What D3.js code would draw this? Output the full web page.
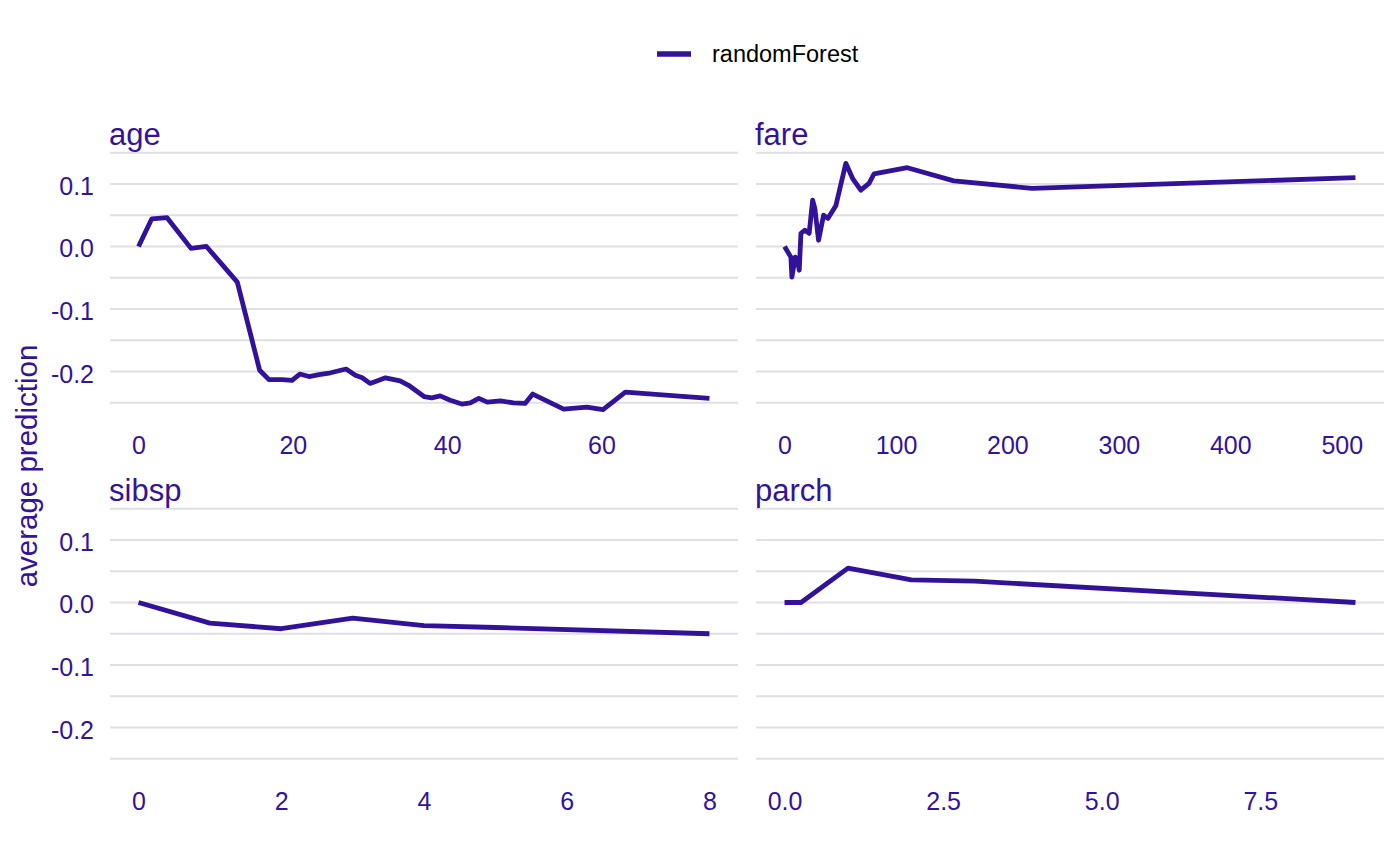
<!DOCTYPE html>
<html>
<head>
<meta charset="utf-8">
<script src="https://cdn.jsdelivr.net/npm/d3@7"></script>
<style>
  html, body { margin: 0; padding: 0; background: #ffffff; }
  svg { display: block; font-family: "Liberation Sans", Arial, Helvetica, sans-serif; }
</style>
</head>
<body>
<svg id="chart" width="1400" height="866"></svg>
<script>
// ---- data ----
const seriesName = "randomForest";
const variables = ["age", "fare", "sibsp", "parch"];

const ageX = [0, 1.7, 3.7, 6.8, 8.8, 12.8, 15.7, 16.9, 18.6, 19.9, 20.9, 22.1, 23.4, 24.9, 26.9, 28.1, 29.0, 30.0, 30.9, 32.0, 33.9, 35.0, 37.0, 38.0, 39.1, 40.4, 41.9, 43.0, 44.1, 45.2, 46.9, 48.6, 50.1, 51.1, 52.9, 55.1, 58.1, 60.2, 63.1, 74.0];
const ageY = [0.0, 0.044, 0.046, -0.003, 0.0, -0.057, -0.198, -0.213, -0.213, -0.214, -0.204, -0.208, -0.205, -0.202, -0.196, -0.206, -0.210, -0.219, -0.215, -0.210, -0.215, -0.222, -0.240, -0.242, -0.239, -0.246, -0.252, -0.250, -0.243, -0.249, -0.247, -0.250, -0.251, -0.236, -0.247, -0.260, -0.257, -0.261, -0.233, -0.243];

const fareX = [0, 5.7, 6.6, 9.6, 11.7, 13.2, 14.7, 18.3, 22.1, 25.2, 27.2, 30.5, 35.0, 39.0, 46.0, 55.0, 61.0, 68.4, 75.8, 80.3, 110.2, 151.9, 222.1, 512.3];
const fareY = [0.0, -0.017, -0.049, -0.017, -0.022, -0.038, 0.021, 0.026, 0.021, 0.074, 0.061, 0.010, 0.050, 0.045, 0.065, 0.133, 0.109, 0.090, 0.101, 0.116, 0.126, 0.105, 0.093, 0.110];

const sibspX = [0, 1, 2, 3, 4, 5, 8];
const sibspY = [0.0, -0.033, -0.042, -0.025, -0.037, -0.040, -0.050];

const parchX = [0, 0.26, 1, 2, 3, 9];
const parchY = [0.0, 0.0, 0.055, 0.036, 0.034, 0.0];

const xTicks = {
  age: [0, 20, 40, 60],
  fare: [0, 100, 200, 300, 400, 500],
  sibsp: [0, 2, 4, 6, 8],
  parch: [0, 2.5, 5, 7.5]
};
const xTickFormat = { age: "d", fare: "d", sibsp: "d", parch: ".1f" };
const yTicks = [0.1, 0.0, -0.1, -0.2];
const yGrid = [0.15, 0.1, 0.05, 0.0, -0.05, -0.1, -0.15, -0.2, -0.25];
const yAxisTitle = "average prediction";

// ---- build ----
const dataByVar = {
  age: ageX.map((x, i) => ({ x, y: ageY[i] })),
  fare: fareX.map((x, i) => ({ x, y: fareY[i] })),
  sibsp: sibspX.map((x, i) => ({ x, y: sibspY[i] })),
  parch: parchX.map((x, i) => ({ x, y: parchY[i] }))
};

const color = "#33129a";
const textColor = "#33139a";
const gridColor = "#e0dfe5";

const svg = d3.select("#chart");

const panelW = 628, panelH = 271;
const panelPos = {
  age:   { left: 110, top: 151 },
  fare:  { left: 756, top: 151 },
  sibsp: { left: 110, top: 507 },
  parch: { left: 756, top: 507 }
};

function expand(ext, f) {
  const d = (ext[1] - ext[0]) * f;
  return [ext[0] - d, ext[1] + d];
}

const allY = [].concat(ageY, fareY, sibspY, parchY);
const yDomain = expand(d3.extent(allY), 0.05);

variables.forEach(v => {
  const p = panelPos[v];
  const data = dataByVar[v];
  const x = d3.scaleLinear().domain(expand(d3.extent(data, d => d.x), 0.05)).range([0, panelW]);
  const y = d3.scaleLinear().domain(yDomain).range([panelH, 0]);

  const g = svg.append("g").attr("transform", `translate(${p.left},${p.top})`);

  // gridlines
  g.selectAll("line.grid").data(yGrid).join("line")
    .attr("class", "grid")
    .attr("x1", 0).attr("x2", panelW)
    .attr("y1", d => y(d)).attr("y2", d => y(d))
    .attr("stroke", gridColor).attr("stroke-width", 2);

  // strip title
  g.append("text")
    .attr("x", -1).attr("y", -6)
    .attr("fill", textColor)
    .style("font-size", "31px")
    .text(v);

  // x axis
  const xAxis = d3.axisBottom(x).tickValues(xTicks[v]).tickFormat(d3.format(xTickFormat[v])).tickSize(0).tickPadding(0);
  const xa = g.append("g").attr("transform", `translate(0,${panelH})`).call(xAxis);
  xa.select(".domain").remove();
  xa.selectAll("text")
    .attr("y", 32).attr("dy", null)
    .attr("fill", textColor)
    .style("font-size", "25px")
    .style("font-family", "'Liberation Sans', Arial, sans-serif");

  // y axis (left column only)
  if (p.left < 300) {
    const yAxis = d3.axisLeft(y).tickValues(yTicks).tickFormat(d => d3.format(".1f")(d).replace("\u2212", "-")).tickSize(0).tickPadding(0);
    const ya = g.append("g").call(yAxis);
    ya.select(".domain").remove();
    ya.selectAll("text")
      .attr("x", -16).attr("dy", "0.42em")
      .attr("fill", textColor)
      .style("font-size", "25px")
      .style("font-family", "'Liberation Sans', Arial, sans-serif");
  }

  // line
  const line = d3.line().x(d => x(d.x)).y(d => y(d.y));
  g.append("path")
    .datum(data)
    .attr("d", line)
    .attr("fill", "none")
    .attr("stroke", color)
    .attr("stroke-width", 4.8)
    .attr("stroke-linejoin", "round");
});

// y axis title
svg.append("text")
  .attr("transform", "translate(37,466) rotate(-90)")
  .attr("text-anchor", "middle")
  .attr("fill", textColor)
  .style("font-size", "29.5px")
  .text(yAxisTitle);

// legend
const lg = svg.append("g");
lg.append("line")
  .attr("x1", 657).attr("x2", 691).attr("y1", 54).attr("y2", 54)
  .attr("stroke", color).attr("stroke-width", 5.5);
lg.append("text")
  .attr("x", 712).attr("y", 62)
  .attr("fill", "#000000")
  .style("font-size", "23.5px")
  .text(seriesName);
</script>
</body>
</html>
